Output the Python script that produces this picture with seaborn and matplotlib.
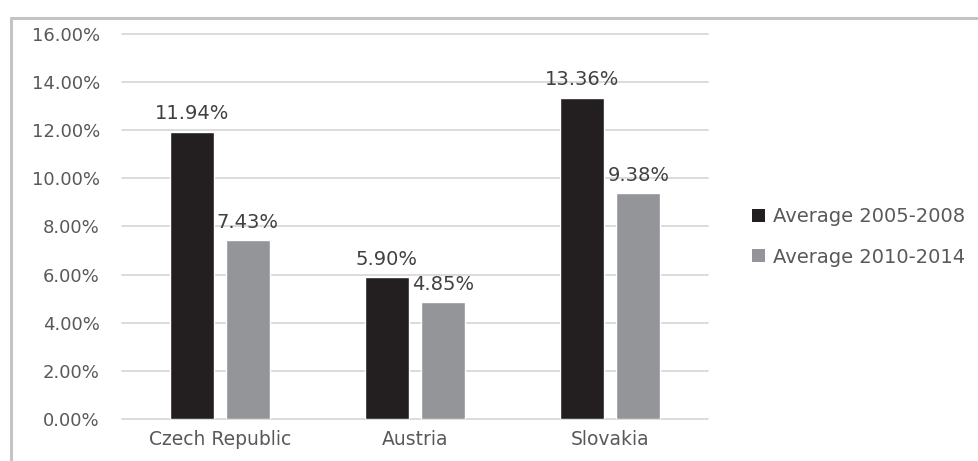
import matplotlib
matplotlib.use("Agg")
import matplotlib.pyplot as plt
from matplotlib.lines import Line2D
from matplotlib.patches import Patch
import seaborn as sns
import pandas as pd

countries = ["Czech Republic", "Austria", "Slovakia"]
periods = ["Average 2005-2008", "Average 2010-2014"]
avg_2005_2008 = [11.94, 5.90, 13.36]
avg_2010_2014 = [7.43, 4.85, 9.38]
y_ticks = [0, 2, 4, 6, 8, 10, 12, 14, 16]

df = pd.DataFrame({
    "country": countries * 2,
    "period": [periods[0]] * 3 + [periods[1]] * 3,
    "value": avg_2005_2008 + avg_2010_2014,
})

sns.set_theme(style="white")
plt.rcParams["font.family"] = ["DejaVu Sans"]

W, H = 979, 461
fig = plt.figure(figsize=(W / 100, H / 100), dpi=100)
ax = fig.add_axes([122 / W, 1 - 419 / H, (708 - 122) / W, (419 - 34) / H])

colors = {periods[0]: "#231f20", periods[1]: "#939598"}
sns.barplot(data=df, x="country", y="value", hue="period", palette=colors,
            width=0.574, gap=0.215, ax=ax, legend=False, saturation=1,
            order=countries, hue_order=periods)

ax.set_ylim(0, 16)
ax.set_xlim(-0.5, 2.5)
ax.set_yticks(y_ticks)
ax.set_yticklabels([f"{t:.2f}%" for t in y_ticks])
ax.yaxis.grid(True, color="#d9d9d9", linewidth=1.3)
for gl in ax.get_ygridlines():
    gl.set_clip_on(False)
ax.set_axisbelow(True)
for s in ax.spines.values():
    s.set_visible(False)
ax.tick_params(axis="both", length=0, colors="#595959")
ax.tick_params(axis="y", pad=16, labelsize=13)
ax.tick_params(axis="x", pad=8, labelsize=13.5)
ax.set_xlabel("")
ax.set_ylabel("")

# value labels above each bar
for container in ax.containers:
    ax.bar_label(container, labels=[f"{v:.2f}%" for v in container.datavalues],
                 padding=6, fontsize=14, color="#404040")

# legend to the right of the plot
handles = [Patch(facecolor=colors[p], edgecolor="none") for p in periods]
fig.legend(handles, periods, loc="center left",
           bbox_to_anchor=(735 / W, 1 - 237 / H), frameon=False,
           fontsize=14, labelcolor="#595959", handlelength=0.65,
           handleheight=0.65, handletextpad=0.4, labelspacing=1.1)

# chart frame
fig.add_artist(Line2D([11 / W, 11 / W], [0, 1 - 18 / H], transform=fig.transFigure,
                      color="#c4c4c4", linewidth=2.2))
fig.add_artist(Line2D([11 / W, 1], [1 - 18 / H, 1 - 18 / H], transform=fig.transFigure,
                      color="#c4c4c4", linewidth=2.2))

fig.savefig("out.png", dpi=100)
